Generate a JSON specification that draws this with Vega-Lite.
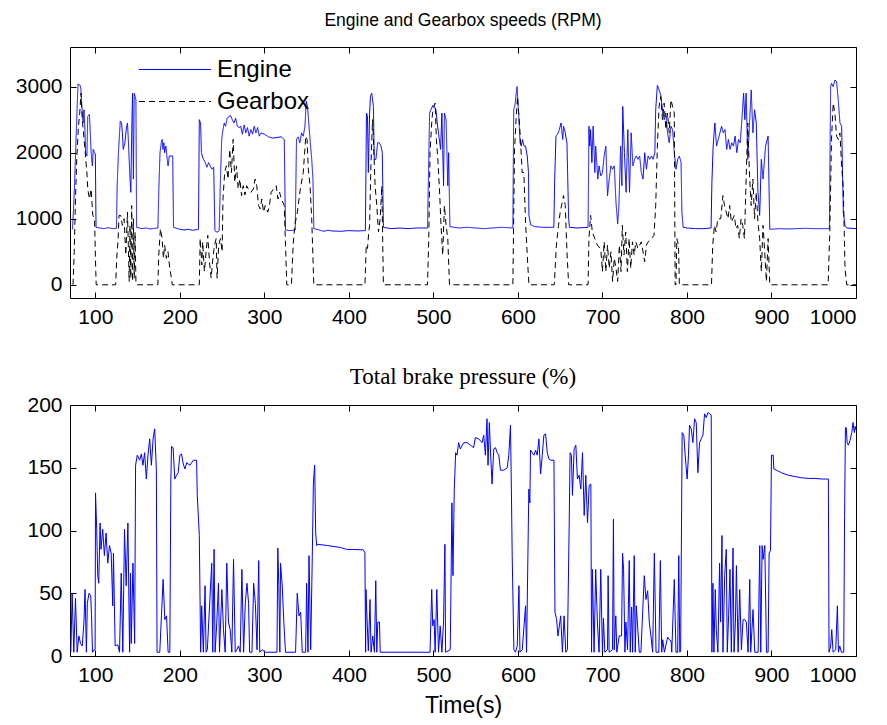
{
"$schema":"https://vega.github.io/schema/vega-lite/v6.json",
"background":"white",
"padding":{"left":14,"top":11,"right":5,"bottom":5},
"spacing":107,
"bounds":"flush",
"config":{
"view":{"stroke":"black","strokeWidth":1},
"axis":{"domain":false,"grid":false,"tickColor":"black","tickSize":-6,"tickWidth":1,"labelColor":"black","labelFont":"Liberation Sans","labelFontSize":21,"titleFont":"Liberation Sans","titleFontSize":23,"titleColor":"black","titleFontWeight":"normal","format":"d"}
},
"datasets":{
"speed":[
{"t":73,"v":840,"s":"Engine"},{"t":74,"v":1100,"s":"Engine"},{"t":75.5,"v":1550,"s":"Engine"},{"t":77,"v":2150,"s":"Engine"},{"t":78.5,"v":2700,"s":"Engine"},{"t":79.5,"v":3040,"s":"Engine"},{"t":82,"v":3020,"s":"Engine"},{"t":83,"v":2950,"s":"Engine"},{"t":84,"v":2700,"s":"Engine"},{"t":85.5,"v":2450,"s":"Engine"},{"t":86.5,"v":2650,"s":"Engine"},{"t":87.5,"v":2400,"s":"Engine"},{"t":88.5,"v":2000,"s":"Engine"},{"t":90,"v":1950,"s":"Engine"},{"t":91,"v":2550,"s":"Engine"},{"t":93,"v":2580,"s":"Engine"},{"t":94,"v":2300,"s":"Engine"},{"t":95,"v":2000,"s":"Engine"},{"t":96.5,"v":1800,"s":"Engine"},{"t":97.5,"v":2050,"s":"Engine"},{"t":99,"v":2000,"s":"Engine"},{"t":100,"v":1980,"s":"Engine"},{"t":100.8,"v":870,"s":"Engine"},{"t":105,"v":860,"s":"Engine"},{"t":110,"v":850,"s":"Engine"},{"t":115,"v":865,"s":"Engine"},{"t":120,"v":850,"s":"Engine"},{"t":125,"v":855,"s":"Engine"},{"t":125.8,"v":1500,"s":"Engine"},{"t":127.5,"v":2050,"s":"Engine"},{"t":129.5,"v":2480,"s":"Engine"},{"t":131,"v":2450,"s":"Engine"},{"t":132,"v":2300,"s":"Engine"},{"t":133,"v":2050,"s":"Engine"},{"t":135,"v":2150,"s":"Engine"},{"t":136.5,"v":2350,"s":"Engine"},{"t":138,"v":2450,"s":"Engine"},{"t":139,"v":2200,"s":"Engine"},{"t":141,"v":1600,"s":"Engine"},{"t":142,"v":1400,"s":"Engine"},{"t":143,"v":2300,"s":"Engine"},{"t":144,"v":2900,"s":"Engine"},{"t":145,"v":1600,"s":"Engine"},{"t":146,"v":2900,"s":"Engine"},{"t":147,"v":2850,"s":"Engine"},{"t":148,"v":2800,"s":"Engine"},{"t":148.8,"v":870,"s":"Engine"},{"t":155,"v":850,"s":"Engine"},{"t":160,"v":860,"s":"Engine"},{"t":165,"v":845,"s":"Engine"},{"t":170,"v":855,"s":"Engine"},{"t":174,"v":860,"s":"Engine"},{"t":175,"v":1400,"s":"Engine"},{"t":176.5,"v":2000,"s":"Engine"},{"t":178,"v":2150,"s":"Engine"},{"t":179,"v":2200,"s":"Engine"},{"t":180,"v":2050,"s":"Engine"},{"t":181,"v":2150,"s":"Engine"},{"t":182,"v":2000,"s":"Engine"},{"t":183.5,"v":2100,"s":"Engine"},{"t":185,"v":1900,"s":"Engine"},{"t":186,"v":1800,"s":"Engine"},{"t":187.5,"v":1950,"s":"Engine"},{"t":189.5,"v":1950,"s":"Engine"},{"t":191.5,"v":1950,"s":"Engine"},{"t":192.5,"v":870,"s":"Engine"},{"t":200,"v":840,"s":"Engine"},{"t":205,"v":830,"s":"Engine"},{"t":210,"v":840,"s":"Engine"},{"t":215,"v":825,"s":"Engine"},{"t":222,"v":840,"s":"Engine"},{"t":223,"v":2500,"s":"Engine"},{"t":224.5,"v":2450,"s":"Engine"},{"t":225.5,"v":2000,"s":"Engine"},{"t":226.5,"v":1950,"s":"Engine"},{"t":228,"v":1900,"s":"Engine"},{"t":230,"v":1850,"s":"Engine"},{"t":232,"v":1780,"s":"Engine"},{"t":234,"v":1850,"s":"Engine"},{"t":236,"v":1800,"s":"Engine"},{"t":238,"v":1750,"s":"Engine"},{"t":240,"v":1780,"s":"Engine"},{"t":241.5,"v":820,"s":"Engine"},{"t":243,"v":800,"s":"Engine"},{"t":245,"v":800,"s":"Engine"},{"t":246.5,"v":820,"s":"Engine"},{"t":248,"v":1600,"s":"Engine"},{"t":249.5,"v":2200,"s":"Engine"},{"t":251,"v":2350,"s":"Engine"},{"t":252.5,"v":2450,"s":"Engine"},{"t":254,"v":2400,"s":"Engine"},{"t":256,"v":2520,"s":"Engine"},{"t":258,"v":2550,"s":"Engine"},{"t":260,"v":2560,"s":"Engine"},{"t":262,"v":2500,"s":"Engine"},{"t":264,"v":2450,"s":"Engine"},{"t":266,"v":2520,"s":"Engine"},{"t":268,"v":2400,"s":"Engine"},{"t":270,"v":2380,"s":"Engine"},{"t":272,"v":2400,"s":"Engine"},{"t":274,"v":2280,"s":"Engine"},{"t":276,"v":2420,"s":"Engine"},{"t":278,"v":2300,"s":"Engine"},{"t":280,"v":2380,"s":"Engine"},{"t":282,"v":2250,"s":"Engine"},{"t":284,"v":2350,"s":"Engine"},{"t":286,"v":2280,"s":"Engine"},{"t":288,"v":2400,"s":"Engine"},{"t":290,"v":2300,"s":"Engine"},{"t":292,"v":2380,"s":"Engine"},{"t":294,"v":2250,"s":"Engine"},{"t":296,"v":2300,"s":"Engine"},{"t":300,"v":2280,"s":"Engine"},{"t":305,"v":2240,"s":"Engine"},{"t":310,"v":2220,"s":"Engine"},{"t":315,"v":2230,"s":"Engine"},{"t":320,"v":2240,"s":"Engine"},{"t":323.5,"v":2200,"s":"Engine"},{"t":325,"v":830,"s":"Engine"},{"t":330,"v":820,"s":"Engine"},{"t":336.5,"v":830,"s":"Engine"},{"t":338,"v":2200,"s":"Engine"},{"t":340,"v":2240,"s":"Engine"},{"t":342,"v":2150,"s":"Engine"},{"t":344,"v":2300,"s":"Engine"},{"t":346,"v":2250,"s":"Engine"},{"t":348,"v":2400,"s":"Engine"},{"t":349.5,"v":2780,"s":"Engine"},{"t":351,"v":2700,"s":"Engine"},{"t":352.5,"v":2450,"s":"Engine"},{"t":354,"v":2200,"s":"Engine"},{"t":356,"v":1900,"s":"Engine"},{"t":357.5,"v":1600,"s":"Engine"},{"t":358.5,"v":850,"s":"Engine"},{"t":365,"v":830,"s":"Engine"},{"t":370,"v":810,"s":"Engine"},{"t":375,"v":825,"s":"Engine"},{"t":380,"v":815,"s":"Engine"},{"t":390,"v":810,"s":"Engine"},{"t":400,"v":820,"s":"Engine"},{"t":410,"v":815,"s":"Engine"},{"t":419.5,"v":820,"s":"Engine"},{"t":420.8,"v":2600,"s":"Engine"},{"t":422,"v":2550,"s":"Engine"},{"t":423,"v":1700,"s":"Engine"},{"t":424.5,"v":2600,"s":"Engine"},{"t":425.5,"v":2850,"s":"Engine"},{"t":427,"v":2900,"s":"Engine"},{"t":429,"v":2700,"s":"Engine"},{"t":430,"v":1900,"s":"Engine"},{"t":432,"v":1900,"s":"Engine"},{"t":434,"v":2150,"s":"Engine"},{"t":436,"v":2150,"s":"Engine"},{"t":438,"v":2100,"s":"Engine"},{"t":439.5,"v":2000,"s":"Engine"},{"t":440.8,"v":870,"s":"Engine"},{"t":450,"v":850,"s":"Engine"},{"t":460,"v":860,"s":"Engine"},{"t":470,"v":850,"s":"Engine"},{"t":480,"v":860,"s":"Engine"},{"t":493,"v":860,"s":"Engine"},{"t":494,"v":1550,"s":"Engine"},{"t":495.5,"v":2600,"s":"Engine"},{"t":497,"v":2650,"s":"Engine"},{"t":499.5,"v":2720,"s":"Engine"},{"t":501,"v":2700,"s":"Engine"},{"t":503,"v":2650,"s":"Engine"},{"t":504.5,"v":2450,"s":"Engine"},{"t":506,"v":2300,"s":"Engine"},{"t":508.5,"v":2050,"s":"Engine"},{"t":510,"v":2600,"s":"Engine"},{"t":511,"v":2050,"s":"Engine"},{"t":512,"v":1500,"s":"Engine"},{"t":513,"v":2600,"s":"Engine"},{"t":515,"v":2500,"s":"Engine"},{"t":516,"v":2000,"s":"Engine"},{"t":517,"v":1500,"s":"Engine"},{"t":518,"v":2000,"s":"Engine"},{"t":519.5,"v":880,"s":"Engine"},{"t":530,"v":860,"s":"Engine"},{"t":540,"v":870,"s":"Engine"},{"t":550,"v":860,"s":"Engine"},{"t":560,"v":850,"s":"Engine"},{"t":570,"v":860,"s":"Engine"},{"t":580,"v":870,"s":"Engine"},{"t":594,"v":860,"s":"Engine"},{"t":595,"v":2650,"s":"Engine"},{"t":596.5,"v":2720,"s":"Engine"},{"t":598,"v":2900,"s":"Engine"},{"t":599,"v":3000,"s":"Engine"},{"t":600,"v":2750,"s":"Engine"},{"t":601,"v":2550,"s":"Engine"},{"t":602.5,"v":2150,"s":"Engine"},{"t":604,"v":2100,"s":"Engine"},{"t":605.5,"v":2200,"s":"Engine"},{"t":607,"v":2100,"s":"Engine"},{"t":609,"v":2100,"s":"Engine"},{"t":611,"v":1950,"s":"Engine"},{"t":612.5,"v":1700,"s":"Engine"},{"t":613,"v":1050,"s":"Engine"},{"t":615,"v":910,"s":"Engine"},{"t":620,"v":880,"s":"Engine"},{"t":630,"v":870,"s":"Engine"},{"t":642.5,"v":870,"s":"Engine"},{"t":643.5,"v":1600,"s":"Engine"},{"t":645,"v":2250,"s":"Engine"},{"t":647,"v":2280,"s":"Engine"},{"t":649,"v":2350,"s":"Engine"},{"t":651,"v":2450,"s":"Engine"},{"t":653,"v":2200,"s":"Engine"},{"t":654,"v":2400,"s":"Engine"},{"t":656,"v":2300,"s":"Engine"},{"t":658,"v":2150,"s":"Engine"},{"t":660,"v":1000,"s":"Engine"},{"t":661,"v":870,"s":"Engine"},{"t":670,"v":860,"s":"Engine"},{"t":683,"v":870,"s":"Engine"},{"t":684,"v":2400,"s":"Engine"},{"t":685,"v":2100,"s":"Engine"},{"t":686,"v":2350,"s":"Engine"},{"t":687.5,"v":1850,"s":"Engine"},{"t":689,"v":2400,"s":"Engine"},{"t":691,"v":1700,"s":"Engine"},{"t":692,"v":2100,"s":"Engine"},{"t":694.5,"v":1600,"s":"Engine"},{"t":696,"v":1800,"s":"Engine"},{"t":698,"v":1650,"s":"Engine"},{"t":700,"v":1700,"s":"Engine"},{"t":702,"v":1950,"s":"Engine"},{"t":704,"v":2100,"s":"Engine"},{"t":706,"v":1350,"s":"Engine"},{"t":708,"v":1600,"s":"Engine"},{"t":710,"v":1800,"s":"Engine"},{"t":712,"v":1750,"s":"Engine"},{"t":714,"v":1800,"s":"Engine"},{"t":716,"v":1250,"s":"Engine"},{"t":718,"v":920,"s":"Engine"},{"t":719.5,"v":1200,"s":"Engine"},{"t":721.5,"v":2100,"s":"Engine"},{"t":723,"v":1500,"s":"Engine"},{"t":724,"v":2700,"s":"Engine"},{"t":726,"v":2000,"s":"Engine"},{"t":728,"v":1400,"s":"Engine"},{"t":730,"v":2350,"s":"Engine"},{"t":732,"v":1400,"s":"Engine"},{"t":734,"v":2300,"s":"Engine"},{"t":736,"v":1800,"s":"Engine"},{"t":738,"v":1900,"s":"Engine"},{"t":740,"v":1950,"s":"Engine"},{"t":742,"v":1900,"s":"Engine"},{"t":744,"v":1950,"s":"Engine"},{"t":746,"v":1700,"s":"Engine"},{"t":748,"v":1600,"s":"Engine"},{"t":750,"v":2000,"s":"Engine"},{"t":752,"v":1750,"s":"Engine"},{"t":754,"v":1950,"s":"Engine"},{"t":756,"v":1900,"s":"Engine"},{"t":758,"v":1950,"s":"Engine"},{"t":760,"v":1900,"s":"Engine"},{"t":762,"v":2000,"s":"Engine"},{"t":763,"v":2650,"s":"Engine"},{"t":765,"v":3020,"s":"Engine"},{"t":767,"v":2950,"s":"Engine"},{"t":769,"v":2870,"s":"Engine"},{"t":771,"v":2650,"s":"Engine"},{"t":773,"v":2500,"s":"Engine"},{"t":775,"v":2600,"s":"Engine"},{"t":777,"v":2300,"s":"Engine"},{"t":779,"v":2150,"s":"Engine"},{"t":781,"v":2400,"s":"Engine"},{"t":783,"v":2350,"s":"Engine"},{"t":785,"v":2000,"s":"Engine"},{"t":787,"v":1750,"s":"Engine"},{"t":789,"v":1900,"s":"Engine"},{"t":791,"v":1950,"s":"Engine"},{"t":793,"v":1850,"s":"Engine"},{"t":794,"v":1100,"s":"Engine"},{"t":795.5,"v":870,"s":"Engine"},{"t":800,"v":860,"s":"Engine"},{"t":810,"v":850,"s":"Engine"},{"t":820,"v":850,"s":"Engine"},{"t":828.5,"v":860,"s":"Engine"},{"t":829.5,"v":1550,"s":"Engine"},{"t":831,"v":2100,"s":"Engine"},{"t":833,"v":2450,"s":"Engine"},{"t":835,"v":2100,"s":"Engine"},{"t":837,"v":2200,"s":"Engine"},{"t":839,"v":2300,"s":"Engine"},{"t":841,"v":2400,"s":"Engine"},{"t":843,"v":2300,"s":"Engine"},{"t":845,"v":2350,"s":"Engine"},{"t":847,"v":2050,"s":"Engine"},{"t":849,"v":2200,"s":"Engine"},{"t":851,"v":2050,"s":"Engine"},{"t":853,"v":2150,"s":"Engine"},{"t":855,"v":2100,"s":"Engine"},{"t":857,"v":2250,"s":"Engine"},{"t":859,"v":2000,"s":"Engine"},{"t":861,"v":2200,"s":"Engine"},{"t":863,"v":2150,"s":"Engine"},{"t":865,"v":2500,"s":"Engine"},{"t":867,"v":2900,"s":"Engine"},{"t":868.5,"v":2500,"s":"Engine"},{"t":870,"v":2900,"s":"Engine"},{"t":872,"v":1900,"s":"Engine"},{"t":874,"v":2450,"s":"Engine"},{"t":876,"v":2950,"s":"Engine"},{"t":878,"v":2300,"s":"Engine"},{"t":880,"v":2650,"s":"Engine"},{"t":882,"v":2450,"s":"Engine"},{"t":884,"v":1400,"s":"Engine"},{"t":886,"v":1050,"s":"Engine"},{"t":888,"v":1900,"s":"Engine"},{"t":890,"v":1600,"s":"Engine"},{"t":893,"v":2100,"s":"Engine"},{"t":896,"v":2250,"s":"Engine"},{"t":898,"v":840,"s":"Engine"},{"t":910,"v":850,"s":"Engine"},{"t":920,"v":845,"s":"Engine"},{"t":930,"v":850,"s":"Engine"},{"t":940,"v":855,"s":"Engine"},{"t":950,"v":850,"s":"Engine"},{"t":968.5,"v":850,"s":"Engine"},{"t":970,"v":3000,"s":"Engine"},{"t":971,"v":3050,"s":"Engine"},{"t":973,"v":3000,"s":"Engine"},{"t":975,"v":3100,"s":"Engine"},{"t":977,"v":3080,"s":"Engine"},{"t":979,"v":2800,"s":"Engine"},{"t":981,"v":2450,"s":"Engine"},{"t":983,"v":2400,"s":"Engine"},{"t":985,"v":1100,"s":"Engine"},{"t":987,"v":900,"s":"Engine"},{"t":989,"v":860,"s":"Engine"},{"t":1000,"v":850,"s":"Engine"},
{"t":73.6,"v":0,"s":"Gearbox"},{"t":75,"v":500,"s":"Gearbox"},{"t":76.5,"v":1300,"s":"Gearbox"},{"t":78,"v":1900,"s":"Gearbox"},{"t":80,"v":2400,"s":"Gearbox"},{"t":81.5,"v":2600,"s":"Gearbox"},{"t":83,"v":2900,"s":"Gearbox"},{"t":84.5,"v":2500,"s":"Gearbox"},{"t":86,"v":2300,"s":"Gearbox"},{"t":88,"v":2000,"s":"Gearbox"},{"t":90,"v":1700,"s":"Gearbox"},{"t":91,"v":1450,"s":"Gearbox"},{"t":93,"v":1300,"s":"Gearbox"},{"t":95,"v":1450,"s":"Gearbox"},{"t":97,"v":1050,"s":"Gearbox"},{"t":99,"v":1000,"s":"Gearbox"},{"t":100.5,"v":200,"s":"Gearbox"},{"t":101,"v":0,"s":"Gearbox"},{"t":124,"v":0,"s":"Gearbox"},{"t":125.5,"v":450,"s":"Gearbox"},{"t":127,"v":700,"s":"Gearbox"},{"t":128,"v":1050,"s":"Gearbox"},{"t":130,"v":1050,"s":"Gearbox"},{"t":132,"v":900,"s":"Gearbox"},{"t":134,"v":1000,"s":"Gearbox"},{"t":136,"v":450,"s":"Gearbox"},{"t":138,"v":1100,"s":"Gearbox"},{"t":139,"v":600,"s":"Gearbox"},{"t":140,"v":50,"s":"Gearbox"},{"t":141,"v":900,"s":"Gearbox"},{"t":142,"v":100,"s":"Gearbox"},{"t":143,"v":1200,"s":"Gearbox"},{"t":144,"v":50,"s":"Gearbox"},{"t":145,"v":1000,"s":"Gearbox"},{"t":146,"v":100,"s":"Gearbox"},{"t":147,"v":800,"s":"Gearbox"},{"t":148,"v":50,"s":"Gearbox"},{"t":148.5,"v":0,"s":"Gearbox"},{"t":174,"v":0,"s":"Gearbox"},{"t":175,"v":450,"s":"Gearbox"},{"t":177,"v":850,"s":"Gearbox"},{"t":179,"v":700,"s":"Gearbox"},{"t":180.5,"v":400,"s":"Gearbox"},{"t":182,"v":600,"s":"Gearbox"},{"t":184,"v":400,"s":"Gearbox"},{"t":186,"v":500,"s":"Gearbox"},{"t":188,"v":250,"s":"Gearbox"},{"t":190,"v":100,"s":"Gearbox"},{"t":191,"v":0,"s":"Gearbox"},{"t":223,"v":0,"s":"Gearbox"},{"t":224,"v":700,"s":"Gearbox"},{"t":226,"v":300,"s":"Gearbox"},{"t":227,"v":650,"s":"Gearbox"},{"t":229,"v":200,"s":"Gearbox"},{"t":231,"v":500,"s":"Gearbox"},{"t":233,"v":750,"s":"Gearbox"},{"t":235,"v":350,"s":"Gearbox"},{"t":237,"v":100,"s":"Gearbox"},{"t":239,"v":400,"s":"Gearbox"},{"t":241,"v":600,"s":"Gearbox"},{"t":243,"v":700,"s":"Gearbox"},{"t":244,"v":100,"s":"Gearbox"},{"t":246,"v":600,"s":"Gearbox"},{"t":248,"v":700,"s":"Gearbox"},{"t":250,"v":500,"s":"Gearbox"},{"t":251,"v":1300,"s":"Gearbox"},{"t":253,"v":1700,"s":"Gearbox"},{"t":255,"v":1800,"s":"Gearbox"},{"t":257,"v":1600,"s":"Gearbox"},{"t":259,"v":2050,"s":"Gearbox"},{"t":261,"v":1700,"s":"Gearbox"},{"t":263,"v":2200,"s":"Gearbox"},{"t":265,"v":1550,"s":"Gearbox"},{"t":267,"v":1800,"s":"Gearbox"},{"t":269,"v":1450,"s":"Gearbox"},{"t":271,"v":1600,"s":"Gearbox"},{"t":273,"v":1350,"s":"Gearbox"},{"t":275,"v":1500,"s":"Gearbox"},{"t":277,"v":1360,"s":"Gearbox"},{"t":279,"v":1500,"s":"Gearbox"},{"t":281,"v":1450,"s":"Gearbox"},{"t":284,"v":1400,"s":"Gearbox"},{"t":287,"v":1450,"s":"Gearbox"},{"t":289,"v":1600,"s":"Gearbox"},{"t":291,"v":1500,"s":"Gearbox"},{"t":293,"v":1200,"s":"Gearbox"},{"t":295,"v":1150,"s":"Gearbox"},{"t":297,"v":1300,"s":"Gearbox"},{"t":299,"v":1100,"s":"Gearbox"},{"t":301,"v":1200,"s":"Gearbox"},{"t":304,"v":1100,"s":"Gearbox"},{"t":306,"v":1200,"s":"Gearbox"},{"t":308,"v":1400,"s":"Gearbox"},{"t":311,"v":1450,"s":"Gearbox"},{"t":314,"v":1500,"s":"Gearbox"},{"t":316,"v":1300,"s":"Gearbox"},{"t":318,"v":1400,"s":"Gearbox"},{"t":320,"v":1300,"s":"Gearbox"},{"t":323.5,"v":1200,"s":"Gearbox"},{"t":325,"v":600,"s":"Gearbox"},{"t":326.5,"v":0,"s":"Gearbox"},{"t":332,"v":0,"s":"Gearbox"},{"t":334,"v":600,"s":"Gearbox"},{"t":336,"v":900,"s":"Gearbox"},{"t":339,"v":1100,"s":"Gearbox"},{"t":342.5,"v":1450,"s":"Gearbox"},{"t":346,"v":1700,"s":"Gearbox"},{"t":349,"v":2250,"s":"Gearbox"},{"t":350.5,"v":2200,"s":"Gearbox"},{"t":352,"v":1750,"s":"Gearbox"},{"t":354,"v":1500,"s":"Gearbox"},{"t":356,"v":1000,"s":"Gearbox"},{"t":358.5,"v":0,"s":"Gearbox"},{"t":419,"v":0,"s":"Gearbox"},{"t":420.5,"v":600,"s":"Gearbox"},{"t":422,"v":550,"s":"Gearbox"},{"t":423.5,"v":800,"s":"Gearbox"},{"t":424.5,"v":900,"s":"Gearbox"},{"t":426,"v":1800,"s":"Gearbox"},{"t":428,"v":2500,"s":"Gearbox"},{"t":429,"v":2200,"s":"Gearbox"},{"t":431,"v":1500,"s":"Gearbox"},{"t":433,"v":1200,"s":"Gearbox"},{"t":435,"v":800,"s":"Gearbox"},{"t":437,"v":1000,"s":"Gearbox"},{"t":439,"v":1500,"s":"Gearbox"},{"t":440.8,"v":0,"s":"Gearbox"},{"t":493,"v":0,"s":"Gearbox"},{"t":494.5,"v":700,"s":"Gearbox"},{"t":496,"v":2000,"s":"Gearbox"},{"t":498,"v":2450,"s":"Gearbox"},{"t":499,"v":2600,"s":"Gearbox"},{"t":500.5,"v":2700,"s":"Gearbox"},{"t":502,"v":2750,"s":"Gearbox"},{"t":503.5,"v":2200,"s":"Gearbox"},{"t":505.5,"v":1850,"s":"Gearbox"},{"t":507.5,"v":1350,"s":"Gearbox"},{"t":509,"v":900,"s":"Gearbox"},{"t":511,"v":450,"s":"Gearbox"},{"t":513,"v":1200,"s":"Gearbox"},{"t":515,"v":900,"s":"Gearbox"},{"t":517,"v":700,"s":"Gearbox"},{"t":519,"v":0,"s":"Gearbox"},{"t":594,"v":0,"s":"Gearbox"},{"t":596,"v":2050,"s":"Gearbox"},{"t":598,"v":2550,"s":"Gearbox"},{"t":599.5,"v":2850,"s":"Gearbox"},{"t":601,"v":2600,"s":"Gearbox"},{"t":603,"v":2200,"s":"Gearbox"},{"t":605,"v":1700,"s":"Gearbox"},{"t":607,"v":1700,"s":"Gearbox"},{"t":609,"v":950,"s":"Gearbox"},{"t":611,"v":450,"s":"Gearbox"},{"t":613,"v":0,"s":"Gearbox"},{"t":643,"v":0,"s":"Gearbox"},{"t":645.5,"v":600,"s":"Gearbox"},{"t":648,"v":900,"s":"Gearbox"},{"t":650,"v":1100,"s":"Gearbox"},{"t":654,"v":1350,"s":"Gearbox"},{"t":656,"v":1200,"s":"Gearbox"},{"t":658,"v":500,"s":"Gearbox"},{"t":660,"v":0,"s":"Gearbox"},{"t":683,"v":0,"s":"Gearbox"},{"t":684,"v":700,"s":"Gearbox"},{"t":686,"v":1050,"s":"Gearbox"},{"t":688,"v":800,"s":"Gearbox"},{"t":691,"v":700,"s":"Gearbox"},{"t":694,"v":600,"s":"Gearbox"},{"t":698,"v":540,"s":"Gearbox"},{"t":700,"v":200,"s":"Gearbox"},{"t":702,"v":650,"s":"Gearbox"},{"t":704,"v":200,"s":"Gearbox"},{"t":706,"v":600,"s":"Gearbox"},{"t":708,"v":250,"s":"Gearbox"},{"t":710,"v":500,"s":"Gearbox"},{"t":712,"v":50,"s":"Gearbox"},{"t":714,"v":400,"s":"Gearbox"},{"t":716,"v":250,"s":"Gearbox"},{"t":718,"v":50,"s":"Gearbox"},{"t":720,"v":600,"s":"Gearbox"},{"t":722,"v":200,"s":"Gearbox"},{"t":723.5,"v":900,"s":"Gearbox"},{"t":725.5,"v":450,"s":"Gearbox"},{"t":727.5,"v":800,"s":"Gearbox"},{"t":729.5,"v":200,"s":"Gearbox"},{"t":731.5,"v":700,"s":"Gearbox"},{"t":733.5,"v":250,"s":"Gearbox"},{"t":735.5,"v":650,"s":"Gearbox"},{"t":737.5,"v":450,"s":"Gearbox"},{"t":739.5,"v":650,"s":"Gearbox"},{"t":742,"v":550,"s":"Gearbox"},{"t":746,"v":650,"s":"Gearbox"},{"t":750,"v":350,"s":"Gearbox"},{"t":752,"v":600,"s":"Gearbox"},{"t":754,"v":650,"s":"Gearbox"},{"t":758,"v":700,"s":"Gearbox"},{"t":761,"v":750,"s":"Gearbox"},{"t":763,"v":1200,"s":"Gearbox"},{"t":765,"v":2100,"s":"Gearbox"},{"t":767,"v":2700,"s":"Gearbox"},{"t":769,"v":2850,"s":"Gearbox"},{"t":771,"v":2500,"s":"Gearbox"},{"t":773,"v":2750,"s":"Gearbox"},{"t":775,"v":2350,"s":"Gearbox"},{"t":777,"v":2600,"s":"Gearbox"},{"t":779,"v":2300,"s":"Gearbox"},{"t":781,"v":2800,"s":"Gearbox"},{"t":783,"v":2700,"s":"Gearbox"},{"t":785,"v":2600,"s":"Gearbox"},{"t":786,"v":0,"s":"Gearbox"},{"t":787,"v":0,"s":"Gearbox"},{"t":788,"v":700,"s":"Gearbox"},{"t":790,"v":600,"s":"Gearbox"},{"t":791,"v":0,"s":"Gearbox"},{"t":829,"v":0,"s":"Gearbox"},{"t":830.5,"v":600,"s":"Gearbox"},{"t":832.5,"v":900,"s":"Gearbox"},{"t":834.5,"v":800,"s":"Gearbox"},{"t":836.5,"v":1000,"s":"Gearbox"},{"t":840,"v":1000,"s":"Gearbox"},{"t":842.5,"v":1350,"s":"Gearbox"},{"t":844.5,"v":1200,"s":"Gearbox"},{"t":846.5,"v":1100,"s":"Gearbox"},{"t":848.5,"v":1000,"s":"Gearbox"},{"t":850.5,"v":1200,"s":"Gearbox"},{"t":852.5,"v":950,"s":"Gearbox"},{"t":856,"v":1050,"s":"Gearbox"},{"t":858,"v":850,"s":"Gearbox"},{"t":860,"v":900,"s":"Gearbox"},{"t":862,"v":700,"s":"Gearbox"},{"t":864,"v":1000,"s":"Gearbox"},{"t":866,"v":900,"s":"Gearbox"},{"t":868,"v":700,"s":"Gearbox"},{"t":870,"v":1600,"s":"Gearbox"},{"t":872,"v":2450,"s":"Gearbox"},{"t":874,"v":1650,"s":"Gearbox"},{"t":876,"v":1200,"s":"Gearbox"},{"t":878,"v":1600,"s":"Gearbox"},{"t":880,"v":1000,"s":"Gearbox"},{"t":882,"v":1400,"s":"Gearbox"},{"t":884,"v":950,"s":"Gearbox"},{"t":886,"v":700,"s":"Gearbox"},{"t":888,"v":200,"s":"Gearbox"},{"t":890,"v":900,"s":"Gearbox"},{"t":892,"v":500,"s":"Gearbox"},{"t":894,"v":50,"s":"Gearbox"},{"t":896,"v":700,"s":"Gearbox"},{"t":898,"v":0,"s":"Gearbox"},{"t":967,"v":0,"s":"Gearbox"},{"t":969,"v":800,"s":"Gearbox"},{"t":971,"v":2200,"s":"Gearbox"},{"t":973,"v":2750,"s":"Gearbox"},{"t":975,"v":2600,"s":"Gearbox"},{"t":977,"v":2250,"s":"Gearbox"},{"t":979,"v":2200,"s":"Gearbox"},{"t":981,"v":2300,"s":"Gearbox"},{"t":983,"v":1800,"s":"Gearbox"},{"t":985,"v":1450,"s":"Gearbox"},{"t":987,"v":250,"s":"Gearbox"},{"t":989,"v":0,"s":"Gearbox"},{"t":1000,"v":0,"s":"Gearbox"}
],
"brake":[
{"t":71,"p":3},{"t":72.5,"p":50},{"t":74.5,"p":3},{"t":76.5,"p":46},{"t":78.5,"p":3},{"t":80.5,"p":16},{"t":82.5,"p":10},{"t":84.5,"p":8},{"t":86.5,"p":27},{"t":87.8,"p":53},{"t":89.4,"p":3},{"t":90.5,"p":42},{"t":92.5,"p":50},{"t":94.5,"p":48},{"t":95.5,"p":32},{"t":96.6,"p":3},{"t":98.6,"p":5},{"t":99.7,"p":5},{"t":100.2,"p":130},{"t":101.6,"p":101},{"t":102.8,"p":64},{"t":104,"p":58},{"t":105.6,"p":106},{"t":106.7,"p":85},{"t":108.7,"p":101},{"t":110.7,"p":80},{"t":112.7,"p":98},{"t":114.7,"p":74},{"t":116.7,"p":88},{"t":118.7,"p":82},{"t":120.6,"p":40},{"t":121.4,"p":82},{"t":123.4,"p":8},{"t":126.5,"p":9},{"t":128.6,"p":3},{"t":130.6,"p":66},{"t":132.5,"p":3},{"t":134.5,"p":101},{"t":136.5,"p":56},{"t":138.5,"p":106},{"t":140.5,"p":3},{"t":141.6,"p":66},{"t":142.5,"p":10},{"t":144.5,"p":74},{"t":146.5,"p":10},{"t":147.6,"p":152},{"t":149.6,"p":160},{"t":152.4,"p":156},{"t":154.4,"p":161},{"t":156.3,"p":152},{"t":158.3,"p":162},{"t":160.3,"p":141},{"t":162.3,"p":160},{"t":164.3,"p":173},{"t":166.3,"p":152},{"t":168.3,"p":173},{"t":170.2,"p":181},{"t":172.2,"p":148},{"t":173,"p":3},{"t":176.2,"p":3},{"t":178.2,"p":32},{"t":180.2,"p":61},{"t":182.2,"p":29},{"t":184.2,"p":32},{"t":186.1,"p":3},{"t":188.1,"p":3},{"t":189.3,"p":138},{"t":190.1,"p":167},{"t":192,"p":166},{"t":194,"p":141},{"t":196,"p":144},{"t":198,"p":146},{"t":200,"p":160},{"t":202,"p":161},{"t":204,"p":153},{"t":206,"p":149},{"t":208,"p":154},{"t":211.9,"p":152},{"t":215.9,"p":156},{"t":219.8,"p":156},{"t":220.6,"p":128},{"t":223,"p":96},{"t":224.6,"p":3},{"t":225.8,"p":40},{"t":227.8,"p":3},{"t":229.8,"p":56},{"t":231,"p":3},{"t":232.5,"p":5},{"t":237.7,"p":74},{"t":238.9,"p":3},{"t":240.5,"p":85},{"t":241.7,"p":3},{"t":243.7,"p":27},{"t":245.7,"p":58},{"t":246.9,"p":3},{"t":249.7,"p":53},{"t":251.6,"p":21},{"t":253.6,"p":3},{"t":255.5,"p":74},{"t":257.5,"p":27},{"t":259.5,"p":21},{"t":261.5,"p":3},{"t":263.5,"p":77},{"t":265.5,"p":3},{"t":267.5,"p":5},{"t":269.4,"p":8},{"t":271.4,"p":3},{"t":273.4,"p":69},{"t":275.4,"p":3},{"t":277.4,"p":42},{"t":279.4,"p":58},{"t":281.3,"p":42},{"t":282.5,"p":3},{"t":285.3,"p":3},{"t":287.3,"p":58},{"t":289.3,"p":42},{"t":291.3,"p":5},{"t":293.3,"p":76},{"t":294.5,"p":3},{"t":297.2,"p":5},{"t":301.2,"p":3},{"t":314.9,"p":3},{"t":315.9,"p":86},{"t":317.1,"p":56},{"t":318.3,"p":3},{"t":319.1,"p":74},{"t":321.1,"p":56},{"t":323,"p":27},{"t":325,"p":3},{"t":336.9,"p":3},{"t":338.9,"p":50},{"t":340.9,"p":32},{"t":342.9,"p":35},{"t":344.8,"p":3},{"t":348.8,"p":3},{"t":350,"p":58},{"t":351.6,"p":3},{"t":352.8,"p":80},{"t":354.8,"p":5},{"t":356.7,"p":80},{"t":358,"p":138},{"t":359.5,"p":152},{"t":360.7,"p":98},{"t":361.9,"p":88},{"t":363.5,"p":89},{"t":374.6,"p":88},{"t":390,"p":86.5},{"t":397,"p":85},{"t":417,"p":84.6},{"t":418.9,"p":82.5},{"t":419.8,"p":3},{"t":420.2,"p":53},{"t":421.8,"p":24},{"t":423,"p":4},{"t":425,"p":45},{"t":426.2,"p":3},{"t":428.2,"p":16},{"t":430.2,"p":3},{"t":431.8,"p":60},{"t":433,"p":3},{"t":434.2,"p":27},{"t":436.2,"p":27},{"t":437,"p":3},{"t":496,"p":3},{"t":498,"p":53},{"t":499.2,"p":24},{"t":500.8,"p":29},{"t":502,"p":3},{"t":504,"p":53},{"t":506,"p":3},{"t":508,"p":24},{"t":510,"p":3},{"t":512,"p":27},{"t":513.6,"p":89},{"t":514.4,"p":3},{"t":519.9,"p":5},{"t":521.9,"p":122},{"t":523.1,"p":64},{"t":524.7,"p":133},{"t":526.3,"p":162},{"t":527.9,"p":160},{"t":529.8,"p":170},{"t":531.8,"p":165},{"t":535.8,"p":170},{"t":539.8,"p":170},{"t":543.7,"p":168},{"t":547.6,"p":166},{"t":549.6,"p":174},{"t":553.6,"p":173},{"t":557.5,"p":170},{"t":559.5,"p":176},{"t":561.5,"p":160},{"t":563.4,"p":189},{"t":564.6,"p":152},{"t":566.2,"p":186},{"t":567.4,"p":165},{"t":569.4,"p":137},{"t":571.4,"p":165},{"t":573.4,"p":166},{"t":575.4,"p":162},{"t":577.4,"p":160},{"t":579.3,"p":148},{"t":583.3,"p":148},{"t":587.3,"p":150},{"t":589.2,"p":160},{"t":591.2,"p":184},{"t":592.4,"p":125},{"t":593.2,"p":80},{"t":595.2,"p":5},{"t":597.2,"p":3},{"t":599.2,"p":8},{"t":601.2,"p":56},{"t":602.4,"p":3},{"t":605.1,"p":5},{"t":609,"p":40},{"t":610.2,"p":3},{"t":612.9,"p":133},{"t":614.1,"p":122},{"t":614.9,"p":164},{"t":616.9,"p":162},{"t":618.9,"p":160},{"t":620.9,"p":164},{"t":622.8,"p":160},{"t":624.8,"p":173},{"t":626.8,"p":145},{"t":628.8,"p":160},{"t":630.7,"p":176},{"t":632.7,"p":177},{"t":634.7,"p":162},{"t":636.7,"p":157},{"t":638.7,"p":156},{"t":642.6,"p":156},{"t":643.8,"p":35},{"t":645.8,"p":29},{"t":647.4,"p":16},{"t":650.6,"p":32},{"t":652.6,"p":3},{"t":654.6,"p":32},{"t":656.6,"p":3},{"t":658.5,"p":5},{"t":660.5,"p":98},{"t":661.7,"p":162},{"t":663.3,"p":160},{"t":664.5,"p":128},{"t":666.5,"p":165},{"t":668.5,"p":168},{"t":670.4,"p":141},{"t":672.4,"p":144},{"t":674.4,"p":133},{"t":676.4,"p":162},{"t":678.4,"p":112},{"t":680.3,"p":144},{"t":682.3,"p":106},{"t":684.3,"p":136},{"t":686.3,"p":137},{"t":687.1,"p":3},{"t":688.1,"p":69},{"t":690.1,"p":3},{"t":692,"p":69},{"t":694,"p":27},{"t":696,"p":3},{"t":698,"p":69},{"t":700,"p":3},{"t":701.2,"p":30},{"t":702.8,"p":3},{"t":706,"p":5},{"t":706.7,"p":64},{"t":707.9,"p":3},{"t":711.9,"p":5},{"t":713,"p":109},{"t":713.9,"p":5},{"t":715.8,"p":32},{"t":717,"p":3},{"t":719.8,"p":16},{"t":722.6,"p":16},{"t":723.8,"p":82},{"t":725,"p":69},{"t":726.6,"p":3},{"t":727.7,"p":27},{"t":729.7,"p":5},{"t":731.7,"p":76},{"t":732.9,"p":3},{"t":734.5,"p":39},{"t":735.7,"p":3},{"t":737.6,"p":80},{"t":738.8,"p":3},{"t":740,"p":40},{"t":741.6,"p":24},{"t":743.6,"p":3},{"t":745.5,"p":3},{"t":749.5,"p":64},{"t":751.5,"p":45},{"t":753.5,"p":52},{"t":755.4,"p":27},{"t":757.4,"p":16},{"t":759.4,"p":3},{"t":761.4,"p":82},{"t":763.4,"p":3},{"t":766.7,"p":3},{"t":768.5,"p":76},{"t":770.1,"p":3},{"t":771.3,"p":13},{"t":773.3,"p":3},{"t":777.2,"p":15},{"t":779.2,"p":13},{"t":781.2,"p":12},{"t":782,"p":3},{"t":785,"p":61},{"t":787,"p":3},{"t":789,"p":3},{"t":790.3,"p":80},{"t":791.5,"p":3},{"t":792.5,"p":4},{"t":794.3,"p":178},{"t":796.3,"p":176},{"t":797.9,"p":160},{"t":800.2,"p":141},{"t":801.8,"p":160},{"t":803,"p":184},{"t":805,"p":181},{"t":807,"p":170},{"t":809,"p":189},{"t":811,"p":186},{"t":812.9,"p":146},{"t":814.9,"p":170},{"t":816.9,"p":173},{"t":818.9,"p":176},{"t":820.8,"p":193},{"t":822.8,"p":190},{"t":824.8,"p":194},{"t":826.7,"p":193},{"t":828.7,"p":192},{"t":829.5,"p":3},{"t":830.7,"p":58},{"t":831.9,"p":3},{"t":833.5,"p":53},{"t":834.7,"p":21},{"t":836.6,"p":3},{"t":838.6,"p":74},{"t":839.8,"p":27},{"t":841.4,"p":96},{"t":842.6,"p":3},{"t":844.6,"p":64},{"t":846.5,"p":85},{"t":847.7,"p":3},{"t":849.3,"p":32},{"t":850.9,"p":69},{"t":852.5,"p":3},{"t":854.5,"p":86},{"t":855.7,"p":3},{"t":857.3,"p":27},{"t":858.5,"p":72},{"t":860.5,"p":3},{"t":862.4,"p":53},{"t":864.4,"p":5},{"t":866.4,"p":29},{"t":868.4,"p":29},{"t":870.3,"p":27},{"t":872.3,"p":3},{"t":874.3,"p":61},{"t":875.4,"p":3},{"t":878.2,"p":37},{"t":880.2,"p":3},{"t":884.2,"p":3},{"t":886.1,"p":88},{"t":887.3,"p":3},{"t":888.9,"p":88},{"t":890.1,"p":77},{"t":892.1,"p":88},{"t":894.1,"p":3},{"t":896,"p":3},{"t":897.2,"p":82},{"t":898.8,"p":84},{"t":900,"p":160},{"t":902,"p":160},{"t":902.8,"p":149},{"t":906,"p":148},{"t":912,"p":146},{"t":920,"p":144},{"t":927.7,"p":143},{"t":935.6,"p":142},{"t":943.5,"p":141.5},{"t":951.5,"p":141.5},{"t":959.4,"p":141},{"t":967.3,"p":141},{"t":968.1,"p":3},{"t":970,"p":8},{"t":971.3,"p":21},{"t":972.9,"p":3},{"t":976,"p":5},{"t":978,"p":40},{"t":979.2,"p":3},{"t":980.8,"p":8},{"t":982.8,"p":3},{"t":985.5,"p":3},{"t":986.5,"p":112},{"t":987.5,"p":182},{"t":988.5,"p":182},{"t":989.5,"p":170},{"t":991,"p":168},{"t":993,"p":172},{"t":995,"p":178},{"t":996.5,"p":186},{"t":998,"p":178},{"t":999,"p":183},{"t":1000,"p":180}
]
},
"vconcat":[
{
"width":786,"height":251,
"title":{"text":"Engine and Gearbox speeds (RPM)","font":"Liberation Sans","fontSize":17.5,"fontWeight":"normal","color":"black","anchor":"middle","offset":17},
"data":{"name":"speed"},
"layer":[
{"mark":{"type":"line","strokeWidth":1,"clip":true},
"encoding":{
"x":{"field":"t","type":"quantitative","scale":{"domain":[70,1000],"nice":false,"zero":false},"axis":{"values":[100,200,300,400,500,600,700,800,900,1000],"title":null,"labelPadding":14}},
"y":{"field":"v","type":"quantitative","scale":{"domain":[-200,3600],"nice":false,"zero":false},"axis":{"values":[0,1000,2000,3000],"title":null,"labelPadding":14}},
"color":{"field":"s","type":"nominal","scale":{"domain":["Engine","Gearbox"],"range":["#0000ff","#000000"]},"legend":{"orient":"none","legendX":88,"legendY":5.5,"title":null,"symbolType":"M-2.25,0H2.25","symbolSize":1024,"symbolStrokeWidth":1.2,"labelFont":"Liberation Sans","labelFontSize":24,"labelColor":"black","rowPadding":3,"labelOffset":25}},
"strokeDash":{"field":"s","type":"nominal","scale":{"domain":["Engine","Gearbox"],"range":[[1,0],[6,4]]},"legend":{"orient":"none","legendX":88,"legendY":5.5,"title":null,"symbolType":"M-2.25,0H2.25","symbolSize":1024,"symbolStrokeWidth":1.2,"labelFont":"Liberation Sans","labelFontSize":24,"labelColor":"black","rowPadding":3,"labelOffset":25}}
}},
{"mark":{"type":"point","opacity":0,"size":0},
"encoding":{
"x":{"field":"t","type":"quantitative","scale":{"domain":[70,1000],"nice":false,"zero":false},"axis":{"orient":"top","values":[100,200,300,400,500,600,700,800,900,1000],"labels":false,"title":null}},
"y":{"field":"v","type":"quantitative","scale":{"domain":[-200,3600],"nice":false,"zero":false},"axis":{"orient":"right","values":[0,1000,2000,3000],"labels":false,"title":null}}
}}
],
"resolve":{"axis":{"x":"independent","y":"independent"}}
},
{
"width":786,"height":251,
"title":{"text":"Total brake pressure (%)","font":"Liberation Serif","fontSize":23,"fontWeight":"normal","color":"black","anchor":"middle","offset":5},
"data":{"name":"brake"},
"layer":[
{"mark":{"type":"line","strokeWidth":1,"color":"#0000ff","clip":true},
"encoding":{
"x":{"field":"t","type":"quantitative","scale":{"domain":[70,1000],"nice":false,"zero":false},"axis":{"values":[100,200,300,400,500,600,700,800,900,1000],"title":"Time(s)","labelPadding":14,"titlePadding":9}},
"y":{"field":"p","type":"quantitative","scale":{"domain":[0,200],"nice":false,"zero":false},"axis":{"values":[0,50,100,150,200],"title":null,"labelPadding":14}}
}},
{"mark":{"type":"point","opacity":0,"size":0},
"encoding":{
"x":{"field":"t","type":"quantitative","scale":{"domain":[70,1000],"nice":false,"zero":false},"axis":{"orient":"top","values":[100,200,300,400,500,600,700,800,900,1000],"labels":false,"title":null}},
"y":{"field":"p","type":"quantitative","scale":{"domain":[0,200],"nice":false,"zero":false},"axis":{"orient":"right","values":[0,50,100,150,200],"labels":false,"title":null}}
}}
],
"resolve":{"axis":{"x":"independent","y":"independent"}}
}
]
}
